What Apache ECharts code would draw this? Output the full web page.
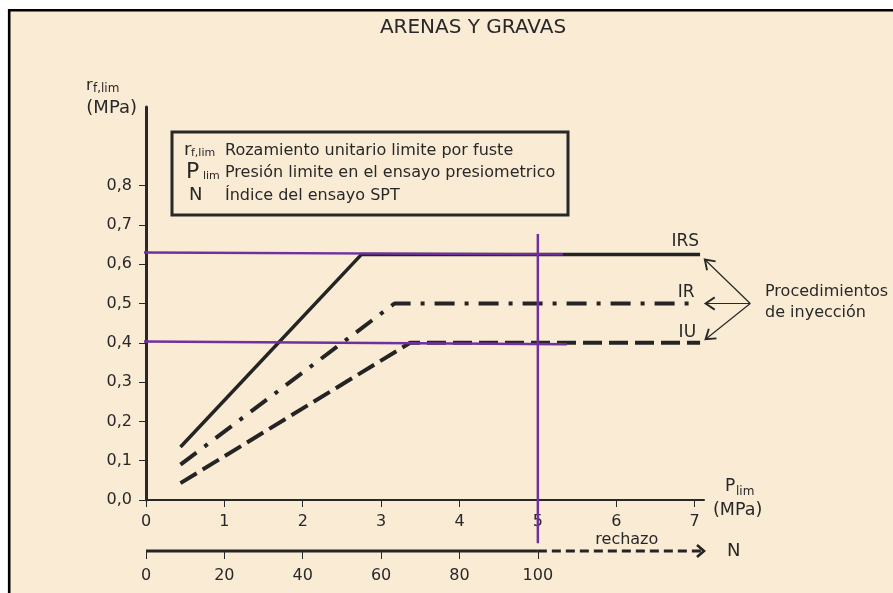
<!DOCTYPE html>
<html>
<head>
<meta charset="utf-8">
<script src="https://cdn.jsdelivr.net/npm/echarts@6/dist/echarts.min.js"></script>
<style>
html,body{margin:0;padding:0;background:#fff}
#chart{width:893px;height:593px}
</style>
</head>
<body>
<div id="chart"></div>
<script>
// Axis ticks
const pTicks = [0, 1, 2, 3, 4, 5, 6, 7];
const rTicks = [0, 0.1, 0.2, 0.3, 0.4, 0.5, 0.6, 0.7, 0.8];
const nTicks = [0, 20, 40, 60, 80, 100];

// Limit unit shaft friction r_f,lim (MPa) versus P_lim (MPa), per injection procedure
const curveIRS = [[0.44, 0.135], [2.75, 0.625], [7.07, 0.625]];
const curveIR  = [[0.44, 0.09], [3.17, 0.5], [7.05, 0.5]];
const curveIU  = [[0.44, 0.043], [3.37, 0.4], [7.07, 0.4]];
const curveLabels = ['IRS', 'IR', 'IU'];

// Reading guides drawn over the curves
const guideUpper = [[-0.03, 0.63], [5.32, 0.625]];
const guideLower = [[-0.03, 0.403], [5.37, 0.396]];
const guideVertical = [[5, 0.677], [5, -0.11]];

// SPT index scale (N = 20 * P_lim), solid up to 100, "rechazo" beyond
const nSolid = [[0, 0], [100, 0]];
const nRefusal = [[100, 0], [142, 0]];

const FONT = '"DejaVu Sans", "Liberation Sans", Arial, sans-serif';
const INK = '#282828';
const LINE = '#242424';
const PURPLE = '#7030a0';

const dom = document.getElementById('chart');
const chart = echarts.init(dom, null, { renderer: 'canvas' });

function lineSeries(data, style, extra) {
  return Object.assign({
    type: 'line',
    data: data,
    symbol: 'none',
    silent: true,
    animation: false,
    lineStyle: style
  }, extra || {});
}

const option = {
  backgroundColor: '#FAEBD4',
  animation: false,
  grid: [
    { left: 146, right: 189, top: 107, bottom: 93 },
    { left: 146, right: 189, top: 549, height: 2 }
  ],
  xAxis: [
    {
      type: 'value', gridIndex: 0, min: 0, max: 7.12,
      axisLine: { show: true, onZero: false, lineStyle: { color: INK, width: 2 } },
      axisTick: { show: true, customValues: pTicks, length: 7, lineStyle: { color: INK, width: 1 } },
      axisLabel: { customValues: pTicks, margin: 14, fontSize: 16, color: INK, fontFamily: FONT },
      splitLine: { show: false }
    },
    {
      type: 'value', gridIndex: 1, min: 0, max: 142.4,
      axisLine: { show: false },
      axisTick: { show: true, customValues: nTicks, length: 8, lineStyle: { color: INK, width: 1 } },
      axisLabel: { customValues: nTicks, margin: 17, fontSize: 16, color: INK, fontFamily: FONT },
      splitLine: { show: false }
    }
  ],
  yAxis: [
    {
      type: 'value', gridIndex: 0, min: 0, max: 1,
      axisLine: { show: true, onZero: false, lineStyle: { color: INK, width: 3 } },
      axisTick: { show: true, customValues: rTicks, length: 7, lineStyle: { color: INK, width: 1 } },
      axisLabel: {
        customValues: rTicks, margin: 14, fontSize: 16, color: INK, fontFamily: FONT,
        formatter: v => v.toFixed(1).replace('.', ',')
      },
      splitLine: { show: false }
    },
    { type: 'value', gridIndex: 1, min: 0, max: 1, show: false }
  ],
  series: [
    lineSeries(curveIRS, { color: LINE, width: 3.5, type: 'solid' }, { name: curveLabels[0], z: 3 }),
    lineSeries(curveIR, { color: LINE, width: 4, type: [20, 10, 4, 10] }, { name: curveLabels[1], z: 3 }),
    lineSeries(curveIU, { color: LINE, width: 4, type: [19, 7] }, { name: curveLabels[2], z: 3 }),
    lineSeries(nSolid, { color: LINE, width: 3 }, { xAxisIndex: 1, yAxisIndex: 1, clip: false }),
    lineSeries(nRefusal, { color: LINE, width: 3, type: [9, 5] }, { xAxisIndex: 1, yAxisIndex: 1, clip: false }),
    lineSeries(guideUpper, { color: PURPLE, width: 2.5 }, { clip: false, z: 5 }),
    lineSeries(guideLower, { color: PURPLE, width: 2.5 }, { clip: false, z: 5 }),
    lineSeries(guideVertical, { color: PURPLE, width: 2.5 }, { clip: false, z: 5 })
  ]
};

chart.setOption(option);

// Annotation layer positioned from the axes' own scales
const px = (x, y) => chart.convertToPixel({ gridIndex: 0 }, [x, y]);
const pxN = (x, y) => chart.convertToPixel({ gridIndex: 1 }, [x, y]);

function txt(text, x, y, size, align, extra) {
  return Object.assign({
    type: 'text', silent: true, z: 10,
    x: x, y: y,
    style: { text: text, fill: INK, font: size + 'px ' + FONT, align: align || 'left', verticalAlign: 'middle' }
  }, extra || {});
}

function arrow(from, to, width, arm, angleDeg) {
  const dx = from[0] - to[0], dy = from[1] - to[1];
  const len = Math.hypot(dx, dy);
  const ux = dx / len, uy = dy / len;
  const a = angleDeg * Math.PI / 180;
  const rot = (t) => [ux * Math.cos(t) - uy * Math.sin(t), ux * Math.sin(t) + uy * Math.cos(t)];
  const r1 = rot(a), r2 = rot(-a);
  return [
    { type: 'line', silent: true, z: 10, shape: { x1: from[0], y1: from[1], x2: to[0], y2: to[1] },
      style: { stroke: INK, lineWidth: width } },
    { type: 'polyline', silent: true, z: 10,
      shape: { points: [[to[0] + r1[0] * arm, to[1] + r1[1] * arm], to, [to[0] + r2[0] * arm, to[1] + r2[1] * arm]] },
      style: { stroke: INK, lineWidth: width + 0.7, fill: null } }
  ];
}

const curveEnds = [curveIRS, curveIR, curveIU].map(c => c[c.length - 1]);
const labelLift = [13, 10.5, 10.5];
const labelRight = [0, -3, -3];
const curveText = curveLabels.map((name, i) => {
  const p = px(curveEnds[i][0], curveEnds[i][1]);
  return txt(name, p[0] + labelRight[i] - 1, p[1] - labelLift[i], 17, 'right');
});

const origin = px(7.71, 0.5);
const tipTargets = [[7.13, 0.612], [7.14, 0.5], [7.14, 0.409]];
let pointers = [];
tipTargets.forEach(t => { pointers = pointers.concat(arrow(origin, px(t[0], t[1]), 1.2, 11, 34)); });

const nTip = pxN(142.4, 0);
const nArrow = { type: 'polyline', silent: true, z: 10,
  shape: { points: [[nTip[0] - 7, nTip[1] - 6], nTip, [nTip[0] - 7, nTip[1] + 6]] },
  style: { stroke: LINE, lineWidth: 2.6, fill: null } };
const rechazoPos = pxN(122.7, 0);

chart.setOption({
  graphic: [
    // outer frame
    { type: 'rect', silent: true, z: 20, shape: { x: 0, y: 0, width: 893, height: 9 }, style: { fill: '#fff' } },
    { type: 'rect', silent: true, z: 20, shape: { x: 0, y: 0, width: 8, height: 593 }, style: { fill: '#fff' } },
    { type: 'line', silent: true, z: 21, shape: { x1: 8, y1: 10.3, x2: 893, y2: 10.3 }, style: { stroke: '#000', lineWidth: 2.6 } },
    { type: 'line', silent: true, z: 21, shape: { x1: 9.2, y1: 9, x2: 9.2, y2: 593 }, style: { stroke: '#000', lineWidth: 2.6 } },

    // title
    txt('ARENAS Y GRAVAS', 473, 28, 20, 'center'),

    // key box
    { type: 'rect', silent: true, z: 10, shape: { x: 172, y: 132, width: 396, height: 83 },
      style: { stroke: INK, lineWidth: 3, fill: null } },
    txt('r', 184, 150, 18),
    txt('f,lim', 191, 153, 11),
    txt('Rozamiento unitario limite por fuste', 225, 150.5, 16),
    txt('P', 186, 172, 22),
    txt('lim', 203, 176, 11),
    txt('Presión limite en el ensayo presiometrico', 225, 173, 16),
    txt('N', 189, 195, 18),
    txt('Índice del ensayo SPT', 225, 195.5, 16),

    // axis names
    txt('r', 86, 86, 16),
    txt('f,lim', 93, 89, 12),
    txt('(MPa)', 137, 108, 18, 'right'),
    txt('P', 725, 487, 17),
    txt('lim', 736, 492, 12),
    txt('(MPa)', 713, 510, 17.5),
    txt('N', 727, 551, 18),
    txt('rechazo', rechazoPos[0], rechazoPos[1] - 11, 16, 'center'),

    // curve labels and pointers
    ...curveText,
    ...pointers,
    txt('Procedimientos', 765, 292, 16),
    txt('de inyección', 765, 313, 16),
    nArrow
  ]
});
</script>
</body>
</html>
